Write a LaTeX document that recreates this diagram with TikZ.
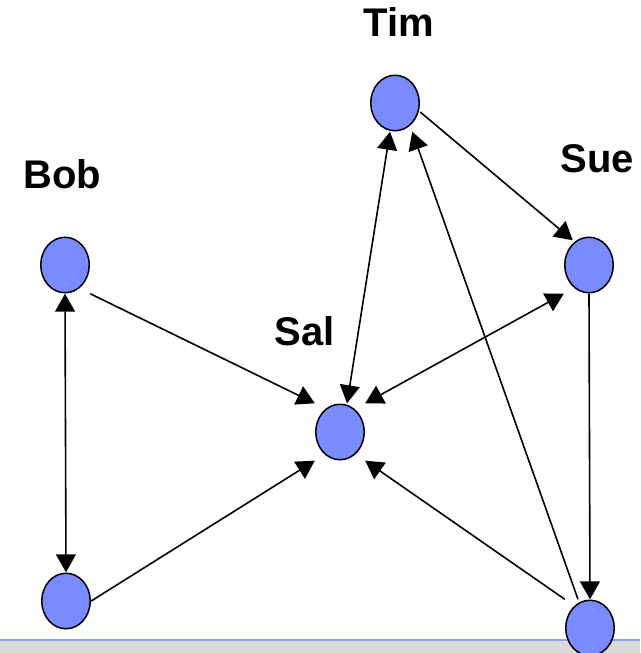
\documentclass[tikz,border=0pt]{standalone}
\usepackage{fontspec}
\setmainfont{Liberation Sans}
\usetikzlibrary{arrows.meta,shapes.geometric}
\definecolor{dotblue}{RGB}{122,138,255}
\definecolor{barline}{RGB}{140,158,255}
\definecolor{bargray}{RGB}{217,217,217}
\begin{document}
\begin{tikzpicture}[x=1pt,y=-1pt,
  person/.style={rectangle, minimum width=50pt, minimum height=57pt, inner sep=0pt,
    label={[ellipse, draw=black, line width=1.5pt, fill=dotblue,
            minimum width=48.5pt, minimum height=55.5pt, inner sep=0pt]center:}},
  tip/.tip={Triangle[length=18pt,width=20pt]},
  oneway/.style={line width=1.6pt, -tip},
  twoway/.style={line width=1.6pt, tip-tip},
  who/.style={font=\bfseries\fontsize{40}{40}\selectfont, anchor=base, inner sep=0pt}]
\useasboundingbox (0,0) rectangle (640,653);
\begin{scope}
\clip (0,0) rectangle (640,653);
% footer strip
\fill[bargray] (0,640) rectangle (640,653);
\draw[barline, line width=1.5pt] (0,640) -- (640,640);

% people
\node[person] (tim) at (395,103) {};
\node[person] (sal) at (340,432) {};
\node[person] (sue) at (589,265) {};
\node[person] (bob) at (65,265) {};
\node[person] (bl)  at (66,601) {};
\node[person] (br)  at (590,628) {};

% names
\node[who] (timname) at (399,36) {Tim};
\node[who] (bobname) at (62,188) {Bob};
\node[who] (suename) at (597,172) {Sue};
\node[who] (salname) at (305,345) {Sal};

% links
\draw[twoway] (bob.south) -- (bl.north);
\draw[oneway] (bob.south east) -- (sal.north west);
\draw[oneway] (bl.east) -- (sal.south west);
\draw[twoway] ([xshift=-5pt]tim.south) -- ([xshift=7pt]sal.north);
\draw[oneway] ([yshift=-9pt]tim.east) -- ([xshift=9pt,yshift=-4pt]sue.north west);
\draw[twoway] (sue.south west) -- (sal.north east);
\draw[oneway] (sue.south) -- (br.north);
\draw[oneway] ([xshift=-12pt]br.north) -- ([xshift=-8pt]tim.south east);
\draw[oneway] (br.north west) -- (sal.south east);
\end{scope}
\end{tikzpicture}
\end{document}
